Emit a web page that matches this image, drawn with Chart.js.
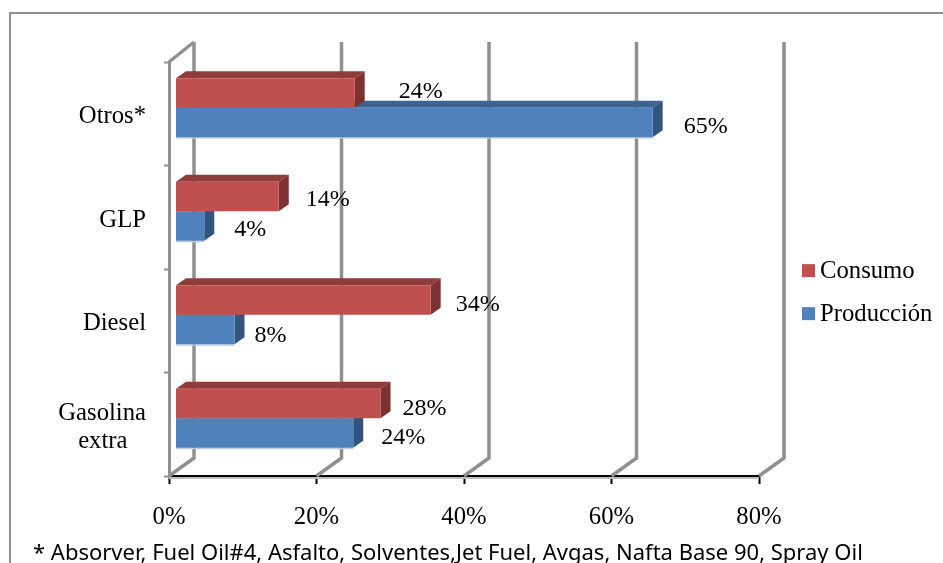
<!DOCTYPE html>
<html>
<head>
<meta charset="utf-8">
<script src="https://cdn.jsdelivr.net/npm/chart.js@4"></script>
<style>
    body { margin: 0; background: #fff; }
    #wrap { position: relative; width: 943px; height: 563px; overflow: hidden; }
    #note { position: absolute; left: 33px; top: 536px; font: 22px "Noto Sans", sans-serif; color: #000; white-space: nowrap; }
</style>
</head>
<body>
<div id="wrap">
    <canvas id="chart" width="943" height="563"></canvas>
    <div id="note">* Absorver, Fuel Oil#4, Asfalto, Solventes,Jet Fuel, Avgas, Nafta Base 90, Spray Oil</div>
</div>
<script>
var categories = ['Otros*', 'GLP', 'Diesel', ['Gasolina', 'extra\u00a0\u00a0\u00a0']];
var consumo = [24.3, 14, 34.6, 27.8];
var produccion = [64.7, 3.9, 8, 24.1];
var consumoLabels = ['24%', '14%', '34%', '28%'];
var produccionLabels = ['65%', '4%', '8%', '24%'];
var xTicks = [0, 20, 40, 60, 80];

// label nudges, the labels do not sit at one fixed distance from the bars
var consumoNudge = [[44, -1], [27, 3], [25, 5], [22, 5]];
var produccionNudge = [[31, 4], [30, 4], [20, 6], [28, 5]];

var serif = '"Liberation Serif", serif';
var grey = '#909090';
var wall = { x: 25, y: -18 };
var shift = { x: 6.5, y: -6 };
var depth = { x: 10, y: -7 };
var faces = [
    { top: '#8f3c3a', side: '#7c3230' },
    { top: '#3d6491', side: '#32557f', edge: '#b9cde5' }
];

var frame3d = {
    id: 'frame3d',
    afterLayout: function (chart) {
        var legend = chart.legend;
        var w = legend.width, h = legend.height;
        legend.left = 789.35;
        legend.top = 241.35;
        legend.right = legend.left + w;
        legend.bottom = legend.top + h;
    },
    beforeDraw: function (chart) {
        var ctx = chart.ctx;
        ctx.save();
        ctx.strokeStyle = grey;
        ctx.lineWidth = 2;
        ctx.beginPath();
        ctx.moveTo(10, 563);
        ctx.lineTo(10, 13);
        ctx.lineTo(943, 13);
        ctx.stroke();
        ctx.restore();
    },
    beforeDatasetsDraw: function (chart) {
        var ctx = chart.ctx, x = chart.scales.x, area = chart.chartArea;
        ctx.save();
        ctx.strokeStyle = grey;
        ctx.lineWidth = 3.5;
        xTicks.forEach(function (t) {
            var px = x.getPixelForValue(t);
            ctx.beginPath();
            ctx.moveTo(px, area.bottom);
            ctx.lineTo(px + wall.x, area.bottom + wall.y);
            ctx.lineTo(px + wall.x, area.top + wall.y - 2);
            ctx.stroke();
        });
        var left = x.getPixelForValue(0);
        ctx.beginPath();
        ctx.moveTo(left, area.top);
        ctx.lineTo(left + wall.x, area.top + wall.y - 2);
        ctx.stroke();
        // soft shadow under the axis line
        ctx.strokeStyle = '#bdbdbd';
        ctx.lineWidth = 2;
        ctx.beginPath();
        ctx.moveTo(left, area.bottom + 2);
        ctx.lineTo(x.getPixelForValue(80), area.bottom + 2);
        ctx.stroke();
        ctx.restore();
    },
    beforeDatasetDraw: function (chart, args) {
        var ctx = chart.ctx, colors = faces[args.index];
        ctx.save();
        ctx.translate(shift.x, shift.y);
        args.meta.data.forEach(function (bar) {
            var top = bar.y - bar.height / 2, bottom = bar.y + bar.height / 2;
            if (colors.edge) {
                ctx.fillStyle = colors.edge;
                ctx.fillRect(bar.base, bottom, bar.x - bar.base, 1.5);
            }
            ctx.fillStyle = colors.top;
            ctx.beginPath();
            ctx.moveTo(bar.base, top);
            ctx.lineTo(bar.base + depth.x, top + depth.y);
            ctx.lineTo(bar.x + depth.x, top + depth.y);
            ctx.lineTo(bar.x, top);
            ctx.fill();
            ctx.fillStyle = colors.side;
            ctx.beginPath();
            ctx.moveTo(bar.x, top);
            ctx.lineTo(bar.x + depth.x, top + depth.y);
            ctx.lineTo(bar.x + depth.x, bottom + depth.y);
            ctx.lineTo(bar.x, bottom);
            ctx.fill();
        });
    },
    afterDatasetDraw: function (chart) {
        chart.ctx.restore();
    },
    afterDatasetsDraw: function (chart) {
        var ctx = chart.ctx;
        ctx.save();
        ctx.font = '24px ' + serif;
        ctx.fillStyle = '#000';
        ctx.textBaseline = 'middle';
        [[consumoLabels, consumoNudge], [produccionLabels, produccionNudge]].forEach(function (s, d) {
            chart.getDatasetMeta(d).data.forEach(function (bar, i) {
                ctx.fillText(s[0][i], bar.x + shift.x + s[1][i][0], bar.y + shift.y + s[1][i][1]);
            });
        });
        ctx.restore();
    },
    afterDraw: function (chart) {
        // swatches sit closer to the text than the legend allows
        var ctx = chart.ctx, legend = chart.legend;
        legend.legendItems.forEach(function (item, i) {
            var hit = legend.legendHitBoxes[i];
            ctx.fillStyle = item.fillStyle;
            ctx.fillRect(hit.left - 5.65, hit.top + 4.5, 13, 13);
        });
    }
};

var ctx = document.getElementById('chart').getContext('2d');
var chart = new Chart(ctx, {
    type: 'bar',
    plugins: [frame3d],
    data: {
        labels: categories,
        datasets: [
            { label: 'Consumo', data: consumo, backgroundColor: '#c0504d', clip: false },
            { label: 'Producción', data: produccion, backgroundColor: '#4f81bd', clip: false }
        ]
    },
    options: {
        responsive: false,
        animation: false,
        indexAxis: 'y',
        categoryPercentage: 0.57,
        barPercentage: 1,
        layout: { padding: { top: 62, right: 184, left: 0, bottom: 0 } },
        plugins: {
            tooltip: { enabled: false },
            legend: {
                position: 'chartArea',
                align: 'start',
                labels: {
                    boxWidth: 0,
                    boxHeight: 0,
                    padding: 18.3,
                    color: '#000',
                    font: { family: serif, size: 24.7 }
                }
            }
        },
        scales: {
            x: {
                min: 0,
                max: 80,
                afterFit: function (s) { s.height = 87; },
                afterBuildTicks: function (s) { s.ticks = xTicks.map(function (v) { return { value: v }; }); },
                border: { color: '#000', width: 2 },
                grid: { drawOnChartArea: false, tickColor: '#000', tickLength: 8, tickWidth: 2 },
                ticks: {
                    color: '#000',
                    padding: 19,
                    maxRotation: 0,
                    font: { family: serif, size: 24.7 },
                    callback: function (v) { return v + '%'; }
                }
            },
            y: {
                afterFit: function (s) { s.width = 169; },
                border: { color: grey, width: 3 },
                grid: { drawOnChartArea: false, offset: true, tickColor: grey, tickLength: 5, tickWidth: 2 },
                ticks: {
                    color: '#000',
                    padding: 18,
                    font: { family: serif, size: 24.7, lineHeight: 1.13 }
                }
            }
        }
    }
});

// category labels sit a little below the middle of their band
var yAxis = chart.scales.y;
var drawYLabels = yAxis.drawLabels;
yAxis.drawLabels = function (area) {
    chart.ctx.save();
    chart.ctx.translate(0, 3);
    drawYLabels.call(yAxis, area);
    chart.ctx.restore();
};
chart.draw();
</script>
</body>
</html>
